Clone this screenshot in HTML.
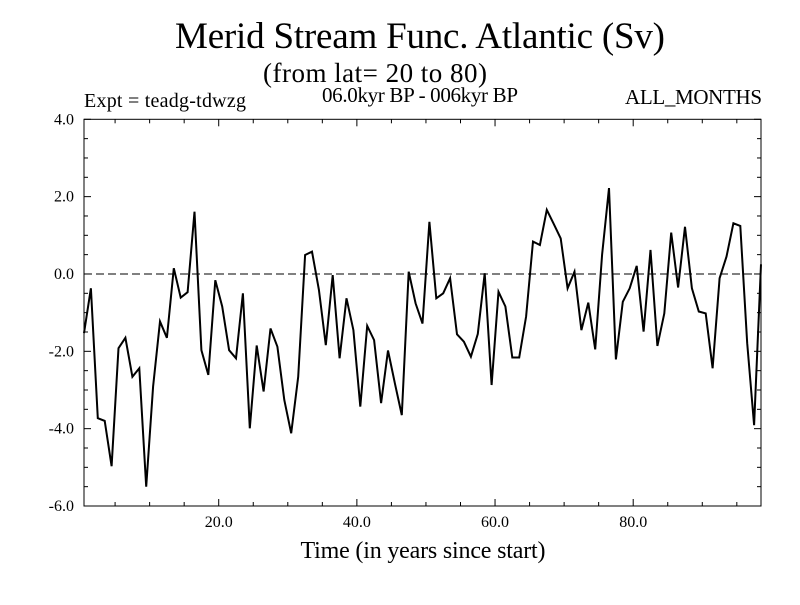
<!DOCTYPE html>
<html><head><meta charset="utf-8"><style>
body{margin:0;background:#fff;}
svg text{font-family:"Liberation Serif",serif;fill:#000;}
</style></head><body>
<svg id="chart" width="800" height="600" xmlns="http://www.w3.org/2000/svg">
<rect width="800" height="600" fill="#fff"/>
<text x="420" y="48" font-size="37" text-anchor="middle" textLength="490">Merid Stream Func. Atlantic (Sv)</text>
<text x="375" y="82" font-size="27" text-anchor="middle" textLength="224">(from lat= 20 to 80)</text>
<text x="84" y="107" font-size="20" textLength="162">Expt = teadg-tdwzg</text>
<text x="420" y="102" font-size="21" text-anchor="middle" textLength="196">06.0kyr BP - 006kyr BP</text>
<text x="762" y="104" font-size="21" text-anchor="end" textLength="137">ALL_MONTHS</text>
<text x="423" y="558" font-size="24" text-anchor="middle" textLength="245">Time (in years since start)</text>
<g id="axes"></g>
<g id="plot"></g>
</svg>
<script>
const yearStart = 0.5;
const values = [-1.53,-0.37,-3.73,-3.80,-4.97,-1.92,-1.65,-2.66,-2.44,-5.5,-2.91,-1.23,-1.65,0.15,-0.61,-0.47,1.61,-1.97,-2.61,-0.16,-0.84,-1.97,-2.18,-0.5,-3.99,-1.85,-3.04,-1.41,-1.88,-3.26,-4.12,-2.66,0.49,0.58,-0.41,-1.84,-0.03,-2.18,-0.63,-1.45,-3.43,-1.34,-1.71,-3.34,-1.98,-2.83,-3.65,0.06,-0.76,-1.28,1.35,
-0.63,-0.5,-0.11,-1.56,-1.75,-2.14,-1.55,0.02,-2.87,-0.46,-0.84,-2.16,-2.16,-1.10,0.84,0.75,1.66,1.29,0.92,-0.37,0.06,-1.45,-0.74,-1.95,0.5,2.22,-2.21,-0.72,-0.37,0.21,-1.49,0.62,-1.86,-1.02,1.07,-0.35,1.22,-0.37,-0.97,-1.02,-2.44,-0.11,0.45,1.31,1.24,-1.79,-3.91,0.25];
const yTickLabels = ["-6.0","-4.0","-2.0","0.0","2.0","4.0"];
const yTickValues = [-6,-4,-2,0,2,4];
const xTickLabels = ["20.0","40.0","60.0","80.0"];
const xTickValues = [20,40,60,80];

const L=84,R=761,T=119.3,B=506;
const xMin=0.5,xMax=98.5,yMin=-6,yMax=4;
const X=v=>L+(v-xMin)/(xMax-xMin)*(R-L);
const Y=v=>B-(v-yMin)/(yMax-yMin)*(B-T);
const NS="http://www.w3.org/2000/svg";
const axes=document.getElementById('axes'), plot=document.getElementById('plot');
function mk(tag,attrs,parent){const e=document.createElementNS(NS,tag);for(const k in attrs)e.setAttribute(k,attrs[k]);parent.appendChild(e);return e;}

const frame=mk('rect',{x:L,y:T,width:R-L,height:B-T,fill:'none',stroke:'#000','stroke-width':1},axes);



for(let v=yMin;v<=yMax+1e-9;v+=0.5){
  const major=Math.abs(v/2-Math.round(v/2))<1e-9;
  const len=major?7:4;
  const t1=mk('line',{x1:L,x2:L+len,y1:Y(v),y2:Y(v),stroke:'#000'},axes);
  
  
  const t2=mk('line',{x1:R,x2:R-len,y1:Y(v),y2:Y(v),stroke:'#000'},axes);
  
  
}
yTickValues.forEach((v,i)=>{
  const t=mk('text',{x:74,y:Y(v)+5,'font-size':16,'text-anchor':'end'},axes);
  t.textContent=yTickLabels[i];
  
  
});
for(let v=5;v<xMax;v+=5){
  const major=v%20===0;
  const len=major?7:4;
  const t1=mk('line',{x1:X(v),x2:X(v),y1:B,y2:B-len,stroke:'#000'},axes);
  
  
  const t2=mk('line',{x1:X(v),x2:X(v),y1:T,y2:T+len,stroke:'#000'},axes);
  
  
}
xTickValues.forEach((v,i)=>{
  const t=mk('text',{x:X(v),y:527,'font-size':16,'text-anchor':'middle'},axes);
  t.textContent=xTickLabels[i];
  
  
});
const zl=mk('line',{x1:L,x2:R,y1:Y(0),y2:Y(0),stroke:'#000','stroke-dasharray':'8,4'},plot);



const pts=values.map((v,i)=>X(yearStart+i).toFixed(1)+','+Y(v).toFixed(1)).join(' ');
const line=mk('polyline',{points:pts,fill:'none',stroke:'#000','stroke-width':2,'stroke-linejoin':'miter'},plot);


</script>
</body></html>
